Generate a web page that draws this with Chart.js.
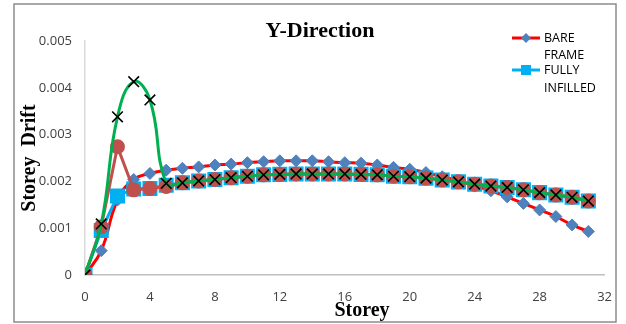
<!DOCTYPE html>
<html>
<head>
<meta charset="utf-8">
<script src="https://cdn.jsdelivr.net/npm/chart.js"></script>
<style>
  body { margin: 0; background: #fff; }
  canvas { display: block; }
</style>
</head>
<body>
<canvas id="c" width="626" height="324"></canvas>
<script>
// storeys on the x axis
let storeys = [0,1,2,3,4,5,6,7,8,9,10,11,12,13,14,15,16,17,18,19,20,21,22,23,24,25,26,27,28,29,30,31];

// BARE FRAME (red line, blue diamonds)
let bareFrame = [0, 0.00052, 0.0016, 0.00204, 0.00217, 0.00224, 0.00228, 0.00231, 0.00235, 0.00237,
  0.0024, 0.00242, 0.00244, 0.00244, 0.00244, 0.00242, 0.0024, 0.00239, 0.00235, 0.0023,
  0.00226, 0.00219, 0.0021, 0.00201, 0.0019, 0.0018, 0.00167, 0.00153, 0.00139, 0.00125, 0.00107, 0.00093];

// FULLY INFILLED (cyan line, squares)
let fullyInfilled = [0, 0.00095, 0.00169, 0.00184, 0.00185, 0.00192, 0.00197, 0.00201, 0.00204, 0.00208,
  0.00211, 0.00214, 0.00215, 0.00216, 0.00216, 0.00216, 0.00216, 0.00215, 0.00214, 0.00211,
  0.0021, 0.00207, 0.00203, 0.00199, 0.00194, 0.0019, 0.00187, 0.00182, 0.00176, 0.00171, 0.00166, 0.00158];

// brown series (circles)
let brownSeries = [0, 0.00103, 0.00274, 0.00182, 0.00185, 0.00189, 0.00197, 0.00201, 0.00204, 0.00208,
  0.00211, 0.00214, 0.00215, 0.00216, 0.00216, 0.00216, 0.00216, 0.00215, 0.00214, 0.00211,
  0.0021, 0.00207, 0.00203, 0.00199, 0.00194, 0.0019, 0.00187, 0.00182, 0.00176, 0.00171, 0.00166, 0.00158];

// green series (X markers)
let greenSeries = [0, 0.00109, 0.00338, 0.00413, 0.00374, 0.00196, 0.00197, 0.00201, 0.00204, 0.00208,
  0.00211, 0.00214, 0.00215, 0.00216, 0.00216, 0.00216, 0.00216, 0.00215, 0.00214, 0.00211,
  0.0021, 0.00207, 0.00203, 0.00199, 0.00194, 0.0019, 0.00187, 0.00182, 0.00176, 0.00171, 0.00166, 0.00158];

let xTickLabels = ['0', '4', '8', '12', '16', '20', '24', '28', '32'];
let yTickLabels = ['0', '0.001', '0.002', '0.003', '0.004', '0.005'];

function pts(values) {
  return values.map((v, i) => ({ x: storeys[i], y: v }));
}

let tickFont = { family: 'Open Sans', size: 13 };

// border, titles and legend
let decorations = {
  id: 'decorations',
  afterDraw(chart) {
    let ctx = chart.ctx;
    ctx.save();
    ctx.strokeStyle = '#8c8c8c';
    ctx.lineWidth = 1.5;
    ctx.strokeRect(14, 4, 602, 318);

    ctx.fillStyle = '#000';
    ctx.textAlign = 'center';
    ctx.textBaseline = 'middle';
    ctx.font = 'bold 22px "Liberation Serif"';
    ctx.fillText('Y-Direction', 320, 31);

    ctx.font = 'bold 20px "Liberation Serif"';
    ctx.fillText('Storey', 362, 311);

    ctx.save();
    ctx.translate(30, 158);
    ctx.rotate(-Math.PI / 2);
    ctx.fillText('Storey  Drift', 0, 0);
    ctx.restore();

    // legend
    ctx.lineWidth = 3;
    ctx.strokeStyle = '#ff0000';
    ctx.beginPath(); ctx.moveTo(512, 38); ctx.lineTo(540, 38); ctx.stroke();
    ctx.fillStyle = '#4f81bd';
    ctx.beginPath();
    ctx.moveTo(526 - 5, 38); ctx.lineTo(526, 33); ctx.lineTo(526 + 5, 38); ctx.lineTo(526, 43);
    ctx.closePath(); ctx.fill();

    ctx.strokeStyle = '#00b0f0';
    ctx.beginPath(); ctx.moveTo(512, 70); ctx.lineTo(540, 70); ctx.stroke();
    ctx.fillStyle = '#00b0f0';
    ctx.fillRect(521, 65, 10, 10);

    ctx.fillStyle = '#000';
    ctx.textAlign = 'left';
    ctx.font = '12.5px "Open Sans"';
    ctx.fillText('BARE', 544, 38);
    ctx.fillText('FRAME', 544, 55);
    ctx.fillText('FULLY', 544, 70);
    ctx.fillText('INFILLED', 544, 88);
    ctx.restore();
  }
};

new Chart(document.getElementById('c'), {
  type: 'line',
  data: {
    datasets: [
      {
        label: 'green',
        data: pts(greenSeries),
        borderColor: '#00b050',
        borderWidth: 3,
        tension: 0.45,
        pointStyle: 'crossRot',
        pointRadius: 7.5,
        pointBorderColor: '#000',
        pointBorderWidth: 1.6,
        order: 0
      },
      {
        label: 'brown',
        data: pts(brownSeries),
        borderColor: '#c0504d',
        backgroundColor: '#c0504d',
        borderWidth: 3,
        tension: 0,
        pointStyle: 'circle',
        pointRadius: 6,
        pointBorderColor: '#c0504d',
        pointBackgroundColor: '#c0504d',
        order: 1
      },
      {
        label: 'FULLY INFILLED',
        data: pts(fullyInfilled),
        borderColor: '#00b0f0',
        borderWidth: 3,
        tension: 0,
        pointStyle: 'rect',
        pointRadius: 8.5,
        pointBorderColor: '#00b0f0',
        pointBackgroundColor: '#00b0f0',
        order: 2
      },
      {
        label: 'BARE FRAME',
        data: pts(bareFrame),
        borderColor: '#ff0000',
        borderWidth: 3,
        tension: 0.45,
        pointStyle: 'rectRot',
        pointRadius: 6,
        pointBorderColor: '#4f81bd',
        pointBackgroundColor: '#4f81bd',
        pointBorderWidth: 1,
        order: 3
      }
    ]
  },
  options: {
    responsive: false,
    animation: false,
    layout: { padding: { left: 25, right: 16, top: 41, bottom: 19 } },
    plugins: {
      legend: { display: false },
      tooltip: { enabled: false }
    },
    scales: {
      x: {
        type: 'linear',
        min: 0,
        max: 32,
        afterFit: s => { s.height = 30; },
        grid: { display: false, drawTicks: false },
        border: { color: '#bfbfbf', width: 1.5 },
        ticks: {
          stepSize: 4,
          padding: 14,
          color: '#404040',
          font: tickFont,
          callback: (v, i) => xTickLabels[i]
        }
      },
      y: {
        min: 0,
        max: 0.005,
        afterFit: s => { s.width = 60; },
        grid: { display: false, drawTicks: false },
        border: { color: '#d9d9d9', width: 1.5 },
        ticks: {
          stepSize: 0.001,
          padding: 13,
          color: '#404040',
          font: tickFont,
          callback: (v, i) => yTickLabels[i]
        }
      }
    }
  },
  plugins: [decorations]
});
</script>
</body>
</html>
